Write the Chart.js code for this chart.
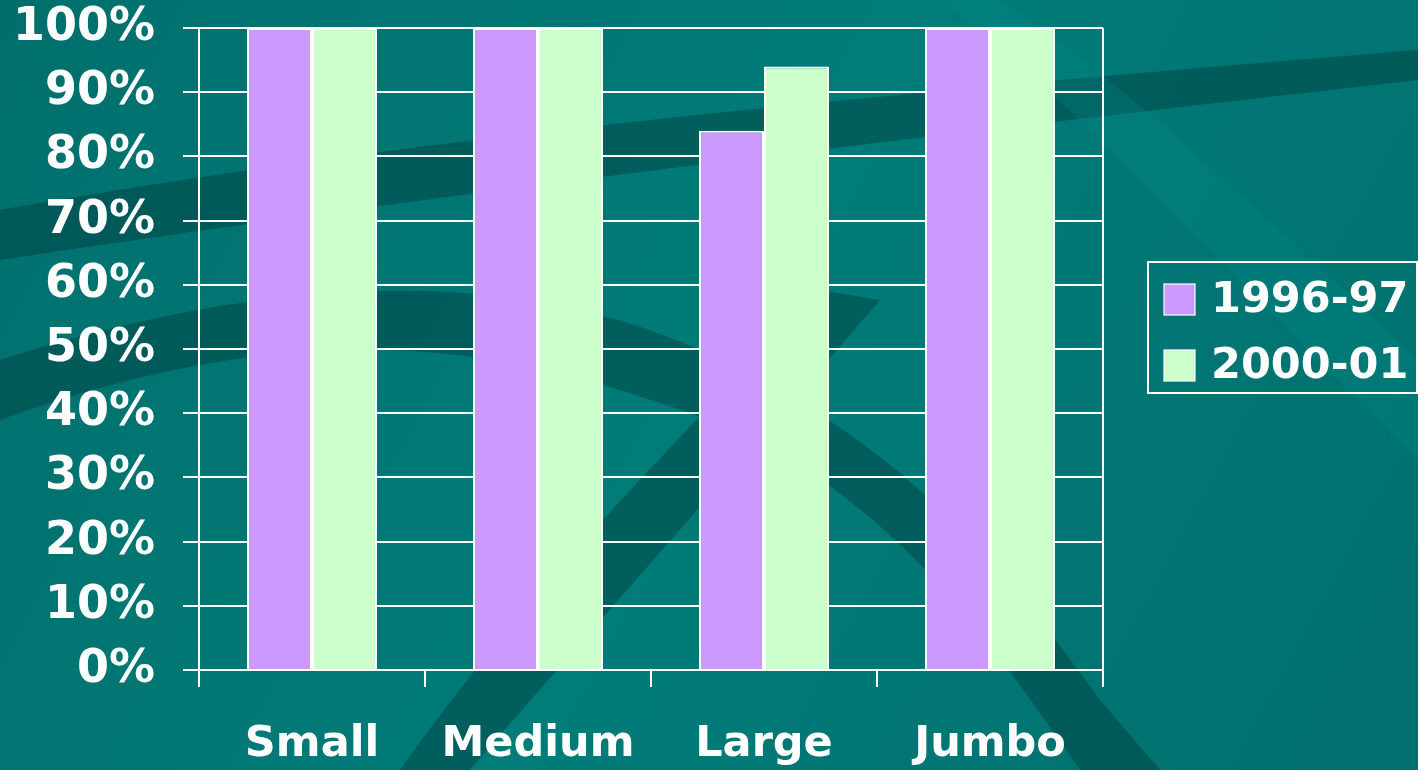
<!DOCTYPE html>
<html>
<head>
<meta charset="utf-8">
<script src="https://cdn.jsdelivr.net/npm/chart.js@4.4.1/dist/chart.umd.min.js"></script>
<style>
html,body{margin:0;padding:0;width:1418px;height:770px;overflow:hidden;background:#017775;}
#wrap{position:absolute;left:0;top:0;width:1418px;height:770px;}
</style>
</head>
<body>
<div id="wrap"><canvas id="c" width="1418" height="770"></canvas></div>
<script>
const categories = ['Small', 'Medium', 'Large', 'Jumbo'];
const seriesNames = ['1996-97', '2000-01'];
const values1996 = [100, 100, 84, 100];
const values2000 = [100, 100, 94, 100];
const yTicks = [0, 10, 20, 30, 40, 50, 60, 70, 80, 90, 100];

const FONT = '"DejaVu Sans", Verdana, sans-serif';
const colors = ['#cc99ff', '#ccffcc'];

const bgPlugin = {
  id: 'bg',
  beforeDraw(chart) {
    const ctx = chart.ctx;
    const W = chart.width, H = chart.height;
    ctx.save();
    const g = ctx.createLinearGradient(0, 0, W, H);
    g.addColorStop(0, '#006f6c');
    g.addColorStop(0.5, '#017c79');
    g.addColorStop(1, '#016f6d');
    ctx.fillStyle = g;
    ctx.fillRect(0, 0, W, H);
    ctx.fillStyle = 'rgba(0,60,60,0.45)';
    ctx.beginPath();
    ctx.moveTo(0, 210); ctx.bezierCurveTo(400, 140, 800, 100, 1418, 50);
    ctx.lineTo(1418, 80); ctx.bezierCurveTo(800, 150, 400, 200, 0, 260);
    ctx.closePath(); ctx.fill();
    ctx.beginPath();
    ctx.moveTo(0, 360); ctx.bezierCurveTo(250, 280, 500, 260, 700, 350);
    ctx.bezierCurveTo(900, 440, 1000, 560, 1100, 700);
    ctx.lineTo(1160, 770); ctx.lineTo(1080, 770);
    ctx.bezierCurveTo(950, 580, 850, 460, 650, 400);
    ctx.bezierCurveTo(450, 330, 250, 330, 0, 420);
    ctx.closePath(); ctx.fill();
    ctx.beginPath();
    ctx.moveTo(400, 770); ctx.bezierCurveTo(550, 560, 700, 420, 820, 290);
    ctx.lineTo(880, 300); ctx.bezierCurveTo(760, 440, 600, 620, 470, 770);
    ctx.closePath(); ctx.fill();
    ctx.fillStyle = 'rgba(0,140,140,0.25)';
    ctx.beginPath();
    ctx.moveTo(1000, 0); ctx.bezierCurveTo(1150, 100, 1300, 250, 1418, 360);
    ctx.lineTo(1418, 460); ctx.bezierCurveTo(1250, 300, 1100, 120, 940, 0);
    ctx.closePath(); ctx.fill();
    ctx.restore();
  }
};

const framePlugin = {
  id: 'frame',
  afterDatasetsDraw(chart) {
    const ctx = chart.ctx;
    const a = chart.chartArea;
    ctx.save();
    ctx.strokeStyle = '#ffffff';
    ctx.lineWidth = 2;
    ctx.beginPath();
    ctx.moveTo(a.right, a.top);
    ctx.lineTo(a.right, a.bottom);
    ctx.stroke();
    ctx.restore();
  },
  afterDraw(chart) {
    const ctx = chart.ctx;
    ctx.save();
    const bx = 1148, by = 262, bw = 269, bh = 131;
    ctx.strokeStyle = '#ffffff';
    ctx.lineWidth = 2;
    ctx.strokeRect(bx, by, bw, bh);
    ctx.font = 'bold 43px ' + FONT;
    ctx.textBaseline = 'middle';
    ctx.textAlign = 'left';
    chart.data.datasets.forEach((ds, i) => {
      const cy = 299 + i * 66;
      ctx.fillStyle = ds.backgroundColor;
      ctx.fillRect(1164, cy - 15, 31, 31);
      ctx.strokeStyle = 'rgba(255,255,255,0.8)';
      ctx.lineWidth = 1.5;
      ctx.strokeRect(1164, cy - 15, 31, 31);
      ctx.fillStyle = '#ffffff';
      ctx.fillText(ds.label, 1211, cy + 2);
    });
    ctx.restore();
  }
};

new Chart(document.getElementById('c'), {
  type: 'bar',
  data: {
    labels: categories,
    datasets: [
      { label: seriesNames[0], data: values1996, backgroundColor: colors[0], borderColor: '#ffffff', borderWidth: 2, borderSkipped: 'bottom' },
      { label: seriesNames[1], data: values2000, backgroundColor: colors[1], borderColor: '#ffffff', borderWidth: 2, borderSkipped: 'bottom' }
    ]
  },
  options: {
    responsive: false,
    animation: false,
    devicePixelRatio: 1,
    layout: { padding: { left: 0, right: 315, top: 28, bottom: 0 } },
    datasets: { bar: { categoryPercentage: 0.575, barPercentage: 1.0 } },
    plugins: { legend: { display: false }, tooltip: { enabled: false } },
    scales: {
      x: {
        offset: true,
        afterFit(scale) { scale.height = 100; scale.paddingLeft = 0; scale.paddingRight = 0; },
        grid: { offset: true, drawOnChartArea: false, drawTicks: true, tickLength: 17, color: '#ffffff', lineWidth: 2 },
        border: { display: true, color: '#ffffff', width: 2 },
        ticks: { color: '#ffffff', font: { family: FONT, size: 43, weight: 'bold', lineHeight: 1.2 }, padding: 32, maxRotation: 0 }
      },
      y: {
        min: 0, max: 100,
        afterFit(scale) { scale.width = 199; scale.paddingTop = 0; scale.paddingBottom = 0; },
        afterBuildTicks(scale) { scale.ticks = yTicks.map(v => ({ value: v })); },
        grid: { color: '#ffffff', lineWidth: 2, tickLength: 16, drawTicks: true },
        border: { display: true, color: '#ffffff', width: 2 },
        ticks: { color: '#ffffff', font: { family: FONT, size: 46, weight: 'bold', lineHeight: 1.0 }, padding: 28, callback: v => v + '%' }
      }
    }
  },
  plugins: [bgPlugin, framePlugin]
});
</script>
</body>
</html>
